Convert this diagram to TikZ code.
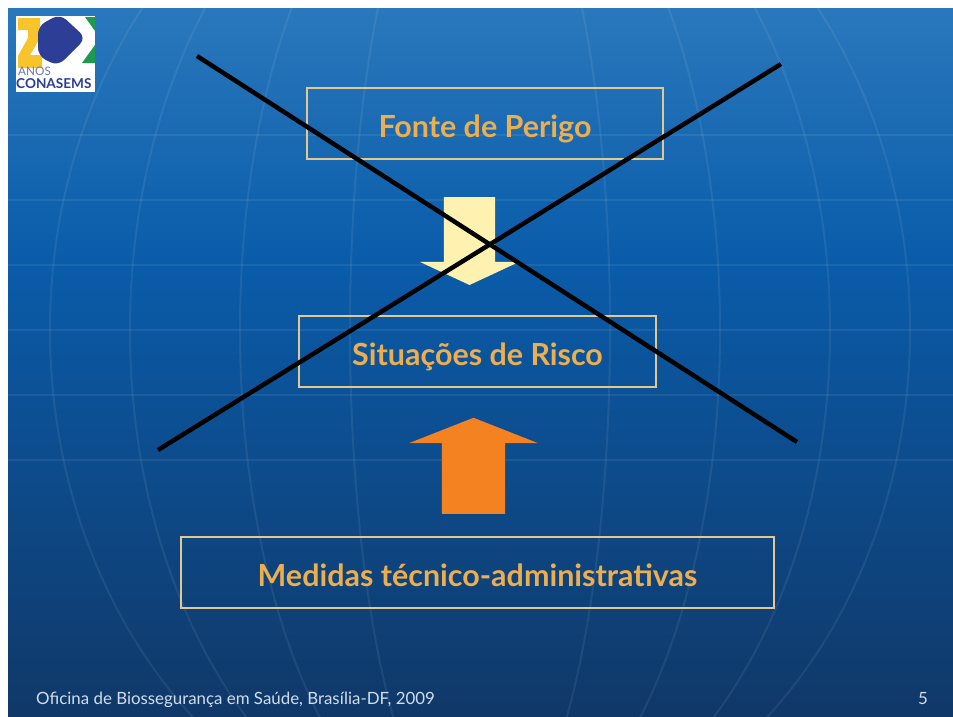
\documentclass[tikz,border=0pt]{standalone}
\usepackage{fontspec}
\setmainfont{Lato}
\usetikzlibrary{shapes.arrows,calc}

\tikzset{
  riskbox/.style={draw=boxline,line width=0.08cm,fill=none,inner sep=0pt,anchor=center,text=boxtext,text height=0.81cm,text depth=0cm,font=\bfseries\fontsize{26}{30}\selectfont},
  gridline/.style={white,opacity=0.07,line width=0.06cm},
  blockarrow/.style={single arrow,draw=none,inner xsep=0pt,rotate=#1},
  crossline/.style={black,line width=0.135cm},
}
\definecolor{boxline}{HTML}{E0C890}
\definecolor{boxtext}{HTML}{EDAE4F}
\definecolor{bgtop}{HTML}{2A78BC}
\definecolor{bgmid}{HTML}{0A5CAA}
\definecolor{bgbottom}{HTML}{103868}
\definecolor{paleyellow}{HTML}{FFF2B0}
\definecolor{arroworange}{HTML}{F58220}
\definecolor{logoyellow}{HTML}{F7C42C}
\definecolor{logoblue}{HTML}{2C3E96}
\definecolor{logogreen}{HTML}{1E9A50}

\begin{document}
\begin{tikzpicture}[x=0.03cm,y=-0.03cm]
  \useasboundingbox (0,0) rectangle (953,716);
  \fill[white] (0,0) rectangle (953,716);
  \fill[top color=bgtop,bottom color=bgmid] (8,8) rectangle (953,260);
  \fill[top color=bgmid,bottom color=bgbottom] (8,260) rectangle (953,716);

  % globe
  \begin{scope}
    \clip (8,8) rectangle (953,716);
    \foreach \y in {135,200,265,330,395,460}
      \draw[gridline] (8,\y) -- (953,\y);
    \foreach \w in {130,240,350,430}
      \draw[gridline] (480,330) ellipse ({\w} and 520);
  \end{scope}

  % logo
  \fill[white] (16,16) rectangle (95,92);
  \fill[logoyellow] (18,18) -- (40,18) -- (40,38) -- (30,55) -- (42,55) -- (42,68) -- (18,68)
    -- (18,56) -- (28,38) -- (28,30) -- (18,30) -- cycle;
  \fill[logogreen] (85,17) -- (95,17) -- (95,31) -- cycle;
  \fill[logogreen] (95,45) -- (95,63) -- (82,63) -- cycle;
  \fill[logoblue,rounded corners=7pt] (60,14) -- (86,38) -- (58,66) -- (38,56) -- (38,26) -- cycle;
  \node[text=logoblue!70,font=\fontsize{10}{11}\selectfont,anchor=west,inner sep=0pt] (anos) at (18,71) {ANOS};
  \node[text=logoblue,font=\bfseries\fontsize{11.6}{13}\selectfont,anchor=west,inner sep=0pt] (conasems) at (16,84) {CONASEMS};

  % boxes
  \node[riskbox,minimum width=10.68cm,minimum height=2.13cm] (fonte) at (485,123.5) {Fonte de Perigo};
  \node[riskbox,minimum width=10.71cm,minimum height=2.13cm] (situacoes) at (477.5,351.5) {Situações de Risco};
  \node[riskbox,minimum width=17.79cm,minimum height=2.13cm] (medidas) at (477.5,572.5) {Medidas técnico-administrativas};

  % arrows
  \node[blockarrow=-90,fill=paleyellow,minimum height=2.64cm,inner ysep=0.765cm,
    single arrow head extend=0.72cm,single arrow tip angle=130] (arrowdown) at (469.5,235) {};
  \node[blockarrow=90,fill=arroworange,minimum height=2.88cm,inner ysep=0.945cm,
    single arrow head extend=0.975cm,single arrow tip angle=137] (arrowup) at (473.5,472) {};

  % cross
  \coordinate (crossa) at (197,56);
  \coordinate (crossb) at (797,442);
  \coordinate (crossc) at (158,450);
  \coordinate (crossd) at (781,64);
  \draw[crossline] (crossa) -- (crossb);
  \draw[crossline] (crossc) -- (crossd);

  % footer
  \node[text=white!80!bgmid,font=\fontsize{14.4}{16}\selectfont,anchor=west,inner sep=0pt] (footer) at (36,700) {Oficina de Biossegurança em Saúde, Brasília-DF, 2009};
  \node[text=white!80!bgmid,font=\fontsize{14.4}{16}\selectfont,inner sep=0pt] (pagenum) at (923,699) {5};
\end{tikzpicture}
\end{document}
